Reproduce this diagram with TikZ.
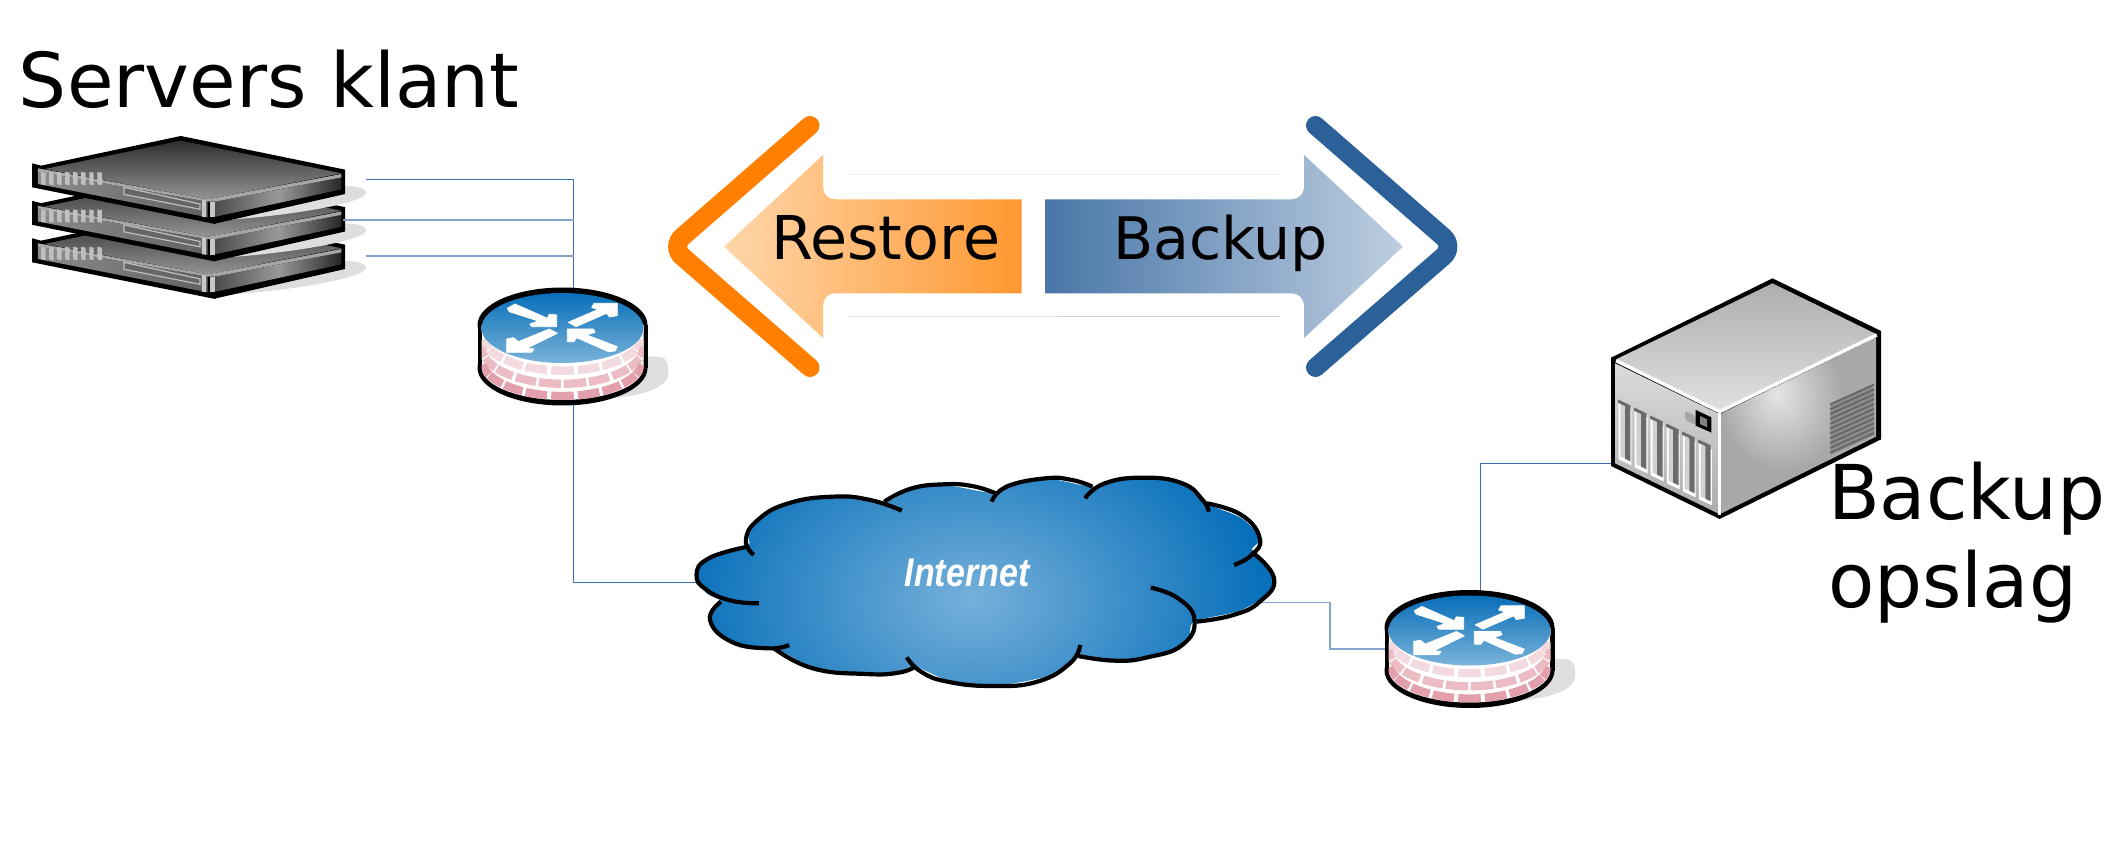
\documentclass[tikz,border=0pt]{standalone}
\usepackage{fontspec}
\setmainfont{DejaVu Sans}
\newfontfamily\inetfont{Liberation Sans}
\usetikzlibrary{calc}
\definecolor{linkdark}{HTML}{3A6CAE}
\definecolor{linklight}{HTML}{85A3CC}
\definecolor{shadowgrey}{HTML}{DEDEDE}
\definecolor{brickA}{HTML}{F8E8EB}
\definecolor{brickB}{HTML}{F3DADF}
\definecolor{brickC}{HTML}{ECBCC4}
\definecolor{brickD}{HTML}{E39FAB}
\definecolor{routertop}{RGB}{8,110,184}
\definecolor{routerbot}{RGB}{122,179,218}
\definecolor{cloudin}{RGB}{118,176,218}
\definecolor{cloudout}{RGB}{8,112,186}
\definecolor{restoreL}{RGB}{255,214,170}
\definecolor{restoreR}{RGB}{255,152,48}
\definecolor{backupL}{RGB}{72,118,168}
\definecolor{backupR}{RGB}{190,206,224}
\definecolor{chevO}{RGB}{255,128,0}
\definecolor{chevB}{RGB}{43,96,153}
\definecolor{faintOa}{RGB}{251,238,224}
\definecolor{faintBa}{RGB}{232,236,243}
\definecolor{faintOb}{RGB}{248,228,208}
\definecolor{faintBb}{RGB}{204,214,230}
\definecolor{towerhi}{RGB}{228,228,228}
\definecolor{towerlo}{RGB}{168,168,168}
\pgfdeclareradialshading{cloudshade}{\pgfpoint{0bp}{0bp}}{color(0bp)=(cloudin); color(22.2bp)=(cloudout); color(100bp)=(cloudout)}
\pgfdeclareradialshading{towershade}{\pgfpoint{-7bp}{9bp}}{color(0bp)=(towerhi); color(20bp)=(towerlo); color(100bp)=(towerlo)}
\tikzset{
  anchorbox/.style={inner sep=0pt,outer sep=0pt,minimum width=#1},
  conn/.style={draw=linkdark,line width=1pt},
  connlight/.style={draw=linklight,line width=1.5pt},
  bigtext/.style={inner sep=0pt,outer sep=0pt,text=black},
  cloudline/.style={draw=black,line width=4.2pt,line cap=butt},
  brick/.style={line width=8.3pt,line cap=butt},
  whitearrow/.style={fill=white,draw=white,line width=.8pt,line join=round},
  rackunit/.pic={
    \begin{scope}[x=.4464pt,y=-.3333pt]
      \fill[shadowgrey] (480,362) .. controls (640,350) and (820,310) .. (820,278) .. controls (820,265) and (800,258) .. (770,258) -- cycle;
      \fill[black,line join=round] (72,190) -- (92,197) -- (405,108) -- (773,209) -- (773,282) -- (484,370) -- (482,372) -- (72,262) -- cycle;
      \shade[top color=black!82,bottom color=black!42] (100,207) -- (405,122) -- (765,220) -- (465,298) -- cycle;
      \shade[left color=black!45,right color=black!62] (85,215) -- (465,305) -- (465,352) -- (85,252) -- cycle;
      \shade[left color=black!70,right color=black!85,middle color=black!40] (483,305) -- (765,232) -- (765,268) -- (483,350) -- cycle;
      \fill[black!35] (85,205) -- (465,298) -- (765,222) -- (765,232) -- (482,305) -- (465,305) -- (85,215) -- cycle;
      \foreach \gx in {92,110,128,146,164,182,200,218}
        \fill[black!25] (\gx,216) -- ++(10,2) -- ++(0,38) -- ++(-10,-3) -- cycle;
      \draw[black!25,line width=1.2pt,fill=black!60] (278,262) -- (448,312) -- (448,328) -- (278,283) -- cycle;
      \fill[black!22] (452,300) -- (462,302) -- (462,352) -- (452,350) -- cycle;
      \fill[black!22] (470,305) -- (482,305) -- (482,352) -- (470,352) -- cycle;
    \end{scope}
  },
  routerunit/.pic={
    \fill[shadowgrey] (44,73) .. controls (80,72) and (106,62) .. (106,48) .. controls (106,38) and (103,32) .. (98,32) -- (80,31) -- cycle;
    \fill[black] (0,0) ellipse [x radius=85,y radius=37.5];
    \fill[black] (0,43) ellipse [x radius=85,y radius=37.5];
    \fill[black] (-85,0) rectangle (85,43);
    \begin{scope}
      \clip (-81,0) -- (81,0) -- (81,42) -- plot[domain=90:-90,samples=31] ({81*sin(\x)},{42+33*cos(\x)}) -- cycle;
      \fill[white] (-81,0) rectangle (81,80);
      \foreach \ybase/\shadecol/\centres in {
         -4/brickA/{-82,-64,-46,46,64,82},
         8.7/brickB/{-73,-56,-37.6,-19,0,19,37.6,56,73},
         21.8/brickC/{-82,-64,-46,-27,-9,9,27,46,64,82},
         34/brickD/{-73,-56,-37.6,-19,0,19,37.6,56,73}}{
        \foreach \cc in \centres {
          \draw[brick,color=\shadecol] plot[domain=\cc-8:\cc+8,samples=6,smooth] ({81*sin(\x)},{\ybase+37*cos(\x)});
        }
      }
    \end{scope}
    \shade[top color=routertop,bottom color=routerbot] (0,3) ellipse [x radius=81,y radius=35];
    \begin{scope}[shift={(-92.5,-40)},x=.3333pt,y=-.3333pt]
      \fill[whitearrow] (112,70)--(135,57)--(232,100)--(238,88)--(260,90)--(260,125)--(185,125)--(180,117)--(205,108)--(118,80)--cycle;
      \fill[whitearrow] (295,112)--(385,73)--(365,68)--(372,55)--(442,55)--(442,92)--(418,96)--(410,85)--(318,125)--cycle;
      \fill[whitearrow] (110,162)--(130,158)--(145,170)--(238,132)--(262,145)--(170,190)--(192,192)--(185,202)--(110,202)--cycle;
      \fill[whitearrow] (292,132)--(370,132)--(375,142)--(350,150)--(442,185)--(435,198)--(415,200)--(320,158)--(312,170)--(292,170)--cycle;
    \end{scope}
  }
}
\begin{document}
\begin{tikzpicture}[x=1pt,y=-1pt]
\useasboundingbox (0,0) rectangle (2123,842);

% named positions
\node[anchorbox=333pt,minimum height=85pt] (s1) at (199.5,180) {};
\node[anchorbox=333pt,minimum height=85pt] (s2) at (199.5,217.5) {};
\node[anchorbox=333pt,minimum height=85pt] (s3) at (199.5,256) {};
\node[anchorbox=169pt,minimum height=117pt] (r1) at (562.5,346.5) {};
\node[anchorbox=169pt,minimum height=117pt] (r2) at (1469.5,649) {};
\node[anchorbox=577.5pt,minimum height=208pt] (cloud) at (985,582) {};
\node[anchorbox=268pt,minimum height=238pt] (tower) at (1746,398) {};
\coordinate (s2port) at (343,220);
\coordinate (r1top) at ($(r1.north)+(11,0)$);
\coordinate (r1bot) at ($(r1.south)+(11,0)$);
\coordinate (r2top) at ($(r2.north)+(10.5,0)$);
\coordinate (towerport) at (1612,463);
\coordinate (cloudport) at (1258,602.7);
\coordinate (cloudbend) at (1330,625);

% servers
\pic at (0,175) {rackunit};
\pic at (0,137.5) {rackunit};
\pic at (0,100) {rackunit};

% connectors
\draw[conn] (s1.east) -| (r1top);
\draw[connlight] (s2port) -- (s2port -| r1top);
\draw[connlight] (s3.east) -- (s3.east -| r1top);
\draw[conn] (r1bot) |- (cloud.west);
\draw[connlight] (cloudport) -| (cloudbend) |- (r2.west);
\draw[conn] (r2top) |- (towerport);

% routers
\pic at (562.5,325) {routerunit};
\pic at (1469.5,627.5) {routerunit};

% cloud
\begin{scope}[shift={(670,450)},x=.40816pt,y=-.33333pt]
  \begin{scope}
    \clip plot[smooth cycle,tension=.55] coordinates {(65,375)(100,315)(190,288)(195,235)(280,165)(400,140)(525,155)(590,118)(670,105)(790,128)(830,100)(920,85)(1035,110)(1090,90)(1160,85)(1250,100)(1315,160)(1400,205)(1445,265)(1425,305)(1475,360)(1470,420)(1400,480)(1285,515)(1270,565)(1210,610)(1100,630)(1000,618)(950,670)(790,708)(680,690)(600,650)(560,668)(480,670)(350,650)(255,595)(160,585)(100,510)(125,455)(90,430)};
    \shade[shading=cloudshade] (-60,-226) rectangle (1540,1126);
  \end{scope}
  \draw[cloudline] plot[smooth,tension=.8] coordinates {(218,460)(150,452)(90,420)(65,375)(95,325)(190,290)};
  \draw[cloudline] plot[smooth,tension=.8] coordinates {(205,315)(186,270)(215,210)(290,160)(400,140)(490,150)(568,182)};
  \draw[cloudline] plot[smooth,tension=.8] coordinates {(525,155)(590,116)(670,103)(740,108)(798,130)};
  \draw[cloudline] plot[smooth,tension=.8] coordinates {(788,155)(825,110)(920,85)(985,90)(1035,110)};
  \draw[cloudline] plot[smooth,tension=.8] coordinates {(1017,145)(1065,100)(1160,83)(1255,100)(1305,150)(1320,185)};
  \draw[cloudline] plot[smooth,tension=.8] coordinates {(1315,160)(1400,195)(1445,265)(1425,315)(1382,345)};
  \draw[cloudline] plot[smooth,tension=.8] coordinates {(1425,305)(1480,385)(1445,455)(1380,495)(1290,515)};
  \draw[cloudline] plot[smooth,tension=.8] coordinates {(1178,413)(1245,445)(1285,510)(1255,585)(1170,622)(1090,632)(1000,618)};
  \draw[cloudline] plot[smooth,tension=.8] coordinates {(1005,585)(980,640)(900,695)(790,708)(680,695)(615,665)(580,622)};
  \draw[cloudline] plot[smooth,tension=.8] coordinates {(600,650)(560,668)(480,672)(350,655)(255,595)};
  \draw[cloudline] plot[smooth,tension=.8] coordinates {(292,585)(240,595)(150,575)(98,510)(125,455)};
\end{scope}
\node[bigtext,text=white,xscale=.85,font=\inetfont\bfseries\itshape\fontsize{40}{44}\selectfont] (inet) at (967,572.5) {Internet};

% backup tower
\begin{scope}[shift={(1350,260)},x=.35714pt,y=-.33333pt]
  \fill[black,line join=round] (731,293) -- (1183,55) -- (1487,213) -- (1487,538) -- (1035,777) -- (731,618) -- cycle;
  \shade[top color=black!32,bottom color=black!12] (745,298) -- (1183,70) -- (1473,222) -- (1035,450) -- cycle;
  \shade[top color=black!14,bottom color=black!32] (742,310) -- (1030,460) -- (1030,760) -- (742,610) -- cycle;
  \shade[shading=towershade] (1040,460) -- (1473,232) -- (1473,530) -- (1040,760) -- cycle;
  \draw[white,line width=3.5pt] (745,302) -- (1035,455) -- (1475,225);
  \draw[white,line width=3.5pt] (1035,455) -- (1035,765);
  \foreach \i in {0,...,5} {
    \begin{scope}[shift={({\i*45},{\i*24})}]
      \fill[white] (752,430) -- (788,448) -- (788,616) -- (752,598) -- cycle;
      \fill[black!18] (757,432) -- (770,440) -- (770,595) -- (757,590) -- cycle;
      \fill[black!58] (770,436) -- (785,444) -- (785,604) -- (770,596) -- cycle;
      \fill[black!58] (750,418) -- (785,436) -- (785,446) -- (750,428) -- cycle;
    \end{scope}
  }
  \fill[black!35,rounded corners=2pt] (938,452) -- (968,468) -- (968,495) -- (938,480) -- cycle;
  \fill[black] (968,450) -- (1012,472) -- (1012,518) -- (968,497) -- cycle;
  \fill[black!50] (980,468) -- (1000,478) -- (1000,502) -- (980,492) -- cycle;
  \fill[black!45] (1345,430) -- (1465,372) -- (1468,525) -- (1345,585) -- cycle;
  \foreach \i in {0,...,10}
    \draw[black!60,line width=1.8pt] (1345,{433+\i*14.5}) -- (1467,{374+\i*14.5});
\end{scope}

% restore / backup arrows
\shade[left color=restoreL,right color=restoreR]
  (724,246.7) -- (823,155) [rounded corners=12pt] -- (823,199.3) [sharp corners] -- (1021.6,199.3) -- (1021.6,293.3) [rounded corners=12pt] -- (823,293.3) [sharp corners] -- (823,338) -- cycle;
\shade[left color=backupL,right color=backupR]
  (1403,246.7) -- (1304,155) [rounded corners=12pt] -- (1304,199.3) [sharp corners] -- (1045,199.3) -- (1045,293.3) [rounded corners=12pt] -- (1304,293.3) [sharp corners] -- (1304,338) -- cycle;
\draw[color=chevO,line width=19pt,line cap=round,rounded corners=15pt] (810,125.5) -- (671,246.7) -- (810,367.5);
\draw[color=chevB,line width=19pt,line cap=round,rounded corners=15pt] (1315.5,125.5) -- (1454.5,246.7) -- (1315.5,367.5);
\draw[color=faintOa,line width=1pt] (847,175) -- (1057,175);
\draw[color=faintBa,line width=1pt] (1057,175) -- (1280,175);
\draw[color=faintOb,line width=1pt] (847,317) -- (1057,317);
\draw[color=faintBb,line width=1pt] (1057,317) -- (1280,317);
\node[bigtext,anchor=base west,font=\fontsize{60.4}{64}\selectfont] (restore) at (771,260) {Restore};
\node[bigtext,anchor=base west,font=\fontsize{58.6}{62}\selectfont] (backup) at (1113,260) {Backup};

% titles
\node[bigtext,anchor=base west,font=\fontsize{75.7}{90}\selectfont] (klant) at (19,108) {Servers klant};
\node[bigtext,anchor=north west,align=left,font=\fontsize{75.6}{88}\selectfont] (opslag) at (1828,462) {Backup\\opslag};
\end{tikzpicture}
\end{document}
